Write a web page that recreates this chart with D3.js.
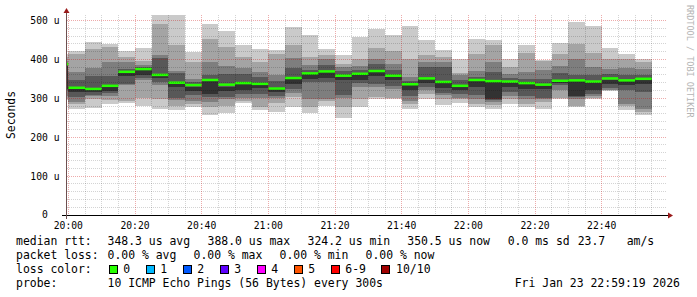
<!DOCTYPE html>
<html>
<head>
<meta charset="utf-8">
<script src="https://cdn.jsdelivr.net/npm/d3@7"></script>
<style>
  body { margin: 0; background: #fff; }
  svg text { font-family: "DejaVu Sans Mono", monospace; fill: #000; }
</style>
</head>
<body>
<svg id="chart" width="697" height="297"></svg>
<script>
// start of every 5 minute step (the first one is only a sliver at the left edge)
var binStarts = [
  "19:55", "20:00", "20:05", "20:10", "20:15", "20:20", "20:25", "20:30", "20:35",
  "20:40", "20:45", "20:50", "20:55", "21:00", "21:05", "21:10", "21:15", "21:20",
  "21:25", "21:30", "21:35", "21:40", "21:45", "21:50", "21:55", "22:00", "22:05",
  "22:10", "22:15", "22:20", "22:25", "22:30", "22:35", "22:40", "22:45", "22:50"
];

// the 10 pings of each step, sorted, in microseconds
var pings = [
  [295, 300, 305, 321, 325, 384, 386, 395, 405, 415],
  [273, 286, 290, 303, 316, 330, 346, 368, 414, 421],
  [274, 297, 306, 309, 315, 325, 357, 378, 426, 445],
  [285, 296, 305, 314, 318, 331, 357, 392, 433, 439],
  [289, 293, 334, 337, 358, 366, 374, 394, 407, 421],
  [280, 300, 346, 352, 360, 372, 380, 386, 397, 429],
  [272, 297, 335, 343, 352, 360, 403, 411, 491, 514],
  [270, 280, 295, 300, 328, 338, 366, 370, 437, 514],
  [278, 286, 293, 308, 318, 330, 342, 349, 392, 420],
  [258, 278, 290, 303, 310, 344, 359, 393, 452, 491],
  [262, 280, 297, 302, 318, 330, 362, 383, 433, 473],
  [287, 292, 300, 312, 322, 337, 363, 378, 405, 437],
  [269, 278, 301, 312, 326, 335, 355, 368, 393, 426],
  [265, 289, 300, 306, 316, 327, 345, 359, 415, 423],
  [278, 303, 313, 323, 336, 350, 378, 404, 438, 483],
  [261, 278, 297, 342, 350, 362, 372, 385, 406, 463],
  [281, 292, 299, 342, 352, 368, 386, 402, 412, 426],
  [249, 278, 300, 309, 346, 356, 370, 380, 389, 412],
  [278, 297, 329, 340, 346, 361, 372, 383, 402, 458],
  [297, 303, 329, 337, 358, 368, 389, 400, 428, 479],
  [299, 301, 323, 332, 346, 356, 372, 389, 421, 463],
  [272, 284, 292, 305, 321, 333, 345, 355, 402, 486],
  [297, 312, 320, 330, 340, 349, 380, 392, 410, 449],
  [282, 297, 308, 314, 326, 338, 380, 394, 406, 423],
  [288, 297, 300, 310, 322, 334, 348, 360, 364, 402],
  [278, 286, 297, 308, 329, 344, 355, 369, 415, 453],
  [273, 282, 290, 296, 299, 342, 368, 392, 438, 449],
  [284, 297, 305, 316, 329, 340, 352, 362, 380, 402],
  [278, 286, 299, 305, 325, 337, 350, 368, 417, 438],
  [273, 290, 297, 301, 325, 333, 350, 372, 395, 398],
  [299, 301, 320, 334, 340, 345, 365, 383, 415, 443],
  [278, 280, 297, 302, 306, 344, 360, 402, 440, 496],
  [297, 300, 305, 311, 321, 340, 359, 380, 417, 486],
  [318, 320, 322, 326, 337, 348, 362, 375, 402, 429],
  [269, 280, 284, 321, 335, 344, 360, 378, 402, 415],
  [256, 265, 273, 316, 337, 348, 360, 376, 393, 402]
];

var medians = [
  388, 327, 324, 332, 368, 375, 360, 340, 334, 347, 335, 339,
  337, 325, 352, 364, 369, 358, 363, 370, 358, 336, 351, 342,
  332, 347, 344, 343, 339, 335, 345, 346, 343, 351, 346, 350
];

var xTicks = ["20:00", "20:20", "20:40", "21:00", "21:20", "21:40", "22:00", "22:20", "22:40"];
var yTicks = [0, 100, 200, 300, 400, 500];

var smokeCols = ["#cacaca", "#a4a4a4", "#7e7e7e", "#585858", "#323232"];

var lossNames = ["0", "1", "2", "3", "4", "5", "6-9", "10/10"];
var lossCols = ["#26ff00", "#00b8ff", "#0059ff", "#5e00ff", "#ff00ff", "#ff5500", "#ff0000", "#a00000"];

var legendRtt = [
  ["median rtt:", 16], ["348.3 us avg", 107.5], ["388.0 us max", 207.5],
  ["324.2 us min", 307.5], ["350.5 us now", 407.3], ["0.0 ms sd", 507.7],
  ["23.7", 577.7], ["am/s", 626.7]
];
var legendLoss = [
  ["packet loss:", 16], ["0.00 % avg", 107.5], ["0.00 % max", 193.5],
  ["0.00 % min", 279.5], ["0.00 % now", 365.5]
];

function tm(s) {
  var p = s.split(":");
  return new Date(2026, 0, 23, +p[0], +p[1]);
}

var svg = d3.select("#chart");
svg.append("rect").attr("width", 697).attr("height", 297).attr("fill", "#fff");

var t0 = new Date(2026, 0, 23, 19, 59, 30),
    t1 = new Date(2026, 0, 23, 22, 59, 30);
var x = d3.scaleTime().domain([t0, t1]).range([66.7, 666.7]);
var y = d3.scaleLinear().domain([0, 514]).range([215, 15]);

var rows = binStarts.map(function(s, i) {
  var a = tm(s);
  return {x0: Math.max(x(a), x(t0)), x1: x(d3.timeMinute.offset(a, 5)),
          p: pings[i].slice().sort(d3.ascending), med: medians[i]};
});

// smoke: outer pair lightest, inner pair darkest
var smoke = svg.append("g").attr("shape-rendering", "crispEdges");
smoke.selectAll("g")
  .data(rows)
  .join("g")
  .each(function(d) {
    d3.select(this).selectAll("rect")
      .data(smokeCols)
      .join("rect")
      .attr("x", d.x0)
      .attr("width", d.x1 - d.x0)
      .attr("y", function(c, k) { return y(d.p[9 - k]); })
      .attr("height", function(c, k) { return y(d.p[k]) - y(d.p[9 - k]); })
      .attr("fill", function(c) { return c; });
  });

// median line, coloured by loss (all 0 here)
svg.append("g")
  .selectAll("rect")
  .data(rows)
  .join("rect")
  .attr("x", function(d) { return d.x0; })
  .attr("width", function(d) { return d.x1 - d.x0; })
  .attr("y", function(d) { return y(d.med) - 1.25; })
  .attr("height", 2.5)
  .attr("fill", lossCols[0]);

// grid on top, semi transparent like rrdtool
var grid = svg.append("g").attr("shape-rendering", "crispEdges");
var minorT = d3.timeMinute.every(5).range(tm("20:00"), t1);
grid.selectAll(".vmin")
  .data(minorT.filter(function(t) { return t.getMinutes() % 20; }))
  .join("line")
  .attr("x1", function(t) { return x(t); }).attr("x2", function(t) { return x(t); })
  .attr("y1", 15).attr("y2", 215)
  .attr("stroke", "#000").attr("stroke-opacity", 0.17).attr("stroke-dasharray", "1,1");
grid.selectAll(".hmin")
  .data(d3.range(20, 514, 20).filter(function(v) { return v % 100; }))
  .join("line")
  .attr("x1", 66.7).attr("x2", 666.7)
  .attr("y1", function(v) { return y(v); }).attr("y2", function(v) { return y(v); })
  .attr("stroke", "#000").attr("stroke-opacity", 0.17).attr("stroke-dasharray", "1,1");
grid.selectAll(".vmaj")
  .data(xTicks.map(tm))
  .join("line")
  .attr("x1", function(t) { return x(t); }).attr("x2", function(t) { return x(t); })
  .attr("y1", 15).attr("y2", 215)
  .attr("stroke", "#c80000").attr("stroke-opacity", 0.33).attr("stroke-dasharray", "1,1");
grid.selectAll(".hmaj")
  .data(yTicks.slice(1))
  .join("line")
  .attr("x1", 66.7).attr("x2", 666.7)
  .attr("y1", function(v) { return y(v); }).attr("y2", function(v) { return y(v); })
  .attr("stroke", "#c80000").attr("stroke-opacity", 0.33).attr("stroke-dasharray", "1,1");

// axes
svg.append("line").attr("x1", 62).attr("x2", 669).attr("y1", 215.5).attr("y2", 215.5)
  .attr("stroke", "#000");
svg.append("line").attr("x1", 66.5).attr("x2", 66.5).attr("y1", 219).attr("y2", 12)
  .attr("stroke", "#6e5050");
svg.append("path").attr("d", "M668,212.5L673,215.5L668,218.5Z").attr("fill", "#9a1a1a");
svg.append("path").attr("d", "M63.5,13L66.5,8L69.5,13Z").attr("fill", "#9a1a1a");

svg.append("g")
  .selectAll("text")
  .data(xTicks)
  .join("text")
  .attr("x", function(s) { return x(tm(s)); })
  .attr("y", 228.5)
  .attr("text-anchor", "middle")
  .attr("font-size", "9.7px")
  .text(function(s) { return s; });

svg.append("g")
  .selectAll("text")
  .data(yTicks)
  .join("text")
  .attr("x", function(v) { return v ? 59.5 : 47.8; })
  .attr("y", function(v) { return y(v); })
  .attr("dy", "0.36em")
  .attr("text-anchor", "end")
  .attr("font-size", "9.7px")
  .text(function(v) { return v ? v + " u" : "0"; });

svg.append("text")
  .attr("transform", "translate(15,115) rotate(-90)")
  .attr("text-anchor", "middle")
  .attr("font-size", "11.4px")
  .text("Seconds");

svg.append("text")
  .attr("transform", "translate(687,5) rotate(90)")
  .attr("font-size", "8.5px")
  .style("fill", "#b4b4b4")
  .text("RRDTOOL / TOBI OETIKER");

// legend
var leg = svg.append("g").attr("font-size", "11.45px");
leg.selectAll(".rtt").data(legendRtt).join("text")
  .attr("x", function(d) { return d[1]; }).attr("y", 245)
  .text(function(d) { return d[0]; });
leg.selectAll(".loss").data(legendLoss).join("text")
  .attr("x", function(d) { return d[1]; }).attr("y", 259)
  .text(function(d) { return d[0]; });
leg.append("text").attr("x", 16).attr("y", 273).text("loss color:");

var bx = 108.6;
lossNames.forEach(function(n, i) {
  leg.append("rect")
    .attr("x", Math.round(bx) + 0.5).attr("y", 265.5)
    .attr("width", 8).attr("height", 8)
    .attr("fill", lossCols[i]).attr("stroke", "#000");
  leg.append("text").attr("x", bx + 14.7).attr("y", 273).text(n);
  bx += 14.7 + n.length * 6.9 + 15.4;
});

leg.append("text").attr("x", 16).attr("y", 287).text("probe:");
leg.append("text").attr("x", 107.5).attr("y", 287).text("10 ICMP Echo Pings (56 Bytes) every 300s");
leg.append("text").attr("x", 680).attr("y", 287).attr("text-anchor", "end")
  .text("Fri Jan 23 22:59:19 2026");
</script>
</body>
</html>
